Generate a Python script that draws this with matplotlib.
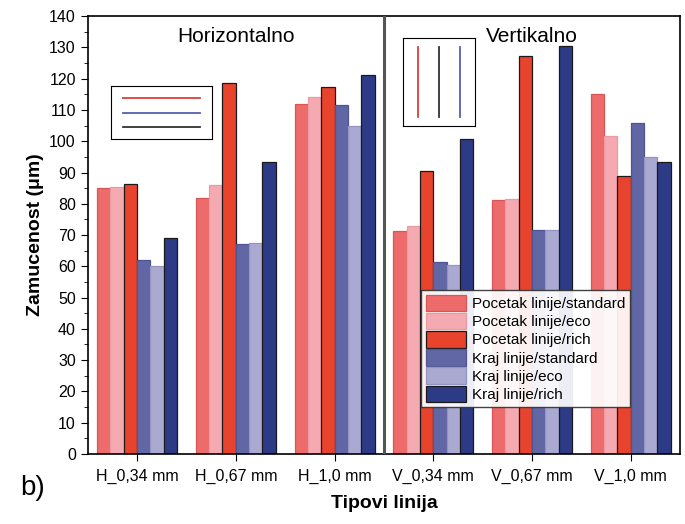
import matplotlib

matplotlib.use("Agg")
import matplotlib.pyplot as plt
import numpy as np
from matplotlib.ticker import MultipleLocator

plt.rcParams["font.family"] = ["Liberation Sans", "DejaVu Sans"]

groups = ["H_0,34 mm", "H_0,67 mm", "H_1,0 mm", "V_0,34 mm", "V_0,67 mm", "V_1,0 mm"]
series_names = ["Pocetak linije/standard", "Pocetak linije/eco", "Pocetak linije/rich",
                "Kraj linije/standard", "Kraj linije/eco", "Kraj linije/rich"]
pocetak_standard = [85.0, 82.0, 112.0, 71.3, 81.3, 115.0]
pocetak_eco = [85.3, 86.0, 114.3, 73.0, 81.5, 101.8]
pocetak_rich = [86.2, 118.8, 117.5, 90.5, 127.3, 89.0]
kraj_standard = [62.0, 67.0, 111.5, 61.5, 71.5, 106.0]
kraj_eco = [60.0, 67.3, 105.0, 60.3, 71.7, 95.0]
kraj_rich = [69.0, 93.5, 121.3, 100.8, 130.5, 93.3]

series = [pocetak_standard, pocetak_eco, pocetak_rich, kraj_standard, kraj_eco, kraj_rich]
colors = ["#ee6b6b", "#f5a9b0", "#e8432d", "#6166a5", "#a9a9d2", "#2d3b86"]
edges = ["#d85656", "#e99aa3", "#1a1a1a", "#4f5592", "#9494c2", "#1a1a1a"]

fig = plt.figure(figsize=(6.85, 5.24), dpi=100)
ax = fig.add_axes([0.128, 0.134, 0.865, 0.835])

x = np.arange(len(groups))
w = 0.135
for i, (vals, c, ec) in enumerate(zip(series, colors, edges)):
    ax.bar(x + (i - 2.5) * w, vals, w, color=c, edgecolor=ec, lw=0.9,
           label=series_names[i], zorder=2)

ax.set_xlim(-0.5, 5.5)
ax.set_ylim(0, 140)
ax.set_xticks(x)
ax.set_xticklabels(groups, fontsize=11.5)
ax.yaxis.set_major_locator(MultipleLocator(10))
ax.yaxis.set_minor_locator(MultipleLocator(5))
ax.tick_params(axis="y", labelsize=11.5, direction="out", length=5)
ax.tick_params(axis="y", which="minor", direction="out", length=3)
ax.tick_params(axis="x", direction="out", length=5, pad=6)
for s in ax.spines.values():
    s.set_linewidth(1.2)

# separator between the two panels
ax.axvline(2.5, color="#555555", lw=2.2, zorder=3)

ax.text(1.0, 136.5, "Horizontalno", fontsize=15, ha="center", va="top")
ax.text(4.0, 136.5, "Vertikalno", fontsize=15, ha="center", va="top")

# small line-key boxes
box_h = ax.inset_axes([0.04, 0.72, 0.17, 0.12])
for yy, c in zip([0.78, 0.5, 0.22], ["#d9413a", "#5460b0", "#333333"]):
    box_h.plot([0.12, 0.88], [yy, yy], color=c, lw=1.3)
box_h.set_xlim(0, 1)
box_h.set_ylim(0, 1)
box_h.set_xticks([])
box_h.set_yticks([])

box_v = ax.inset_axes([0.533, 0.75, 0.12, 0.2])
for xx, c in zip([0.2, 0.5, 0.8], ["#d9413a", "#333333", "#5460b0"]):
    box_v.plot([xx, xx], [0.1, 0.9], color=c, lw=1.3)
box_v.set_xlim(0, 1)
box_v.set_ylim(0, 1)
box_v.set_xticks([])
box_v.set_yticks([])

leg = ax.legend(loc="lower left", bbox_to_anchor=(0.55, 0.09), fontsize=11,
                frameon=True, fancybox=False, edgecolor="#333333", framealpha=0.92,
                handlelength=2.6, handleheight=1.3, labelspacing=0.1,
                handletextpad=0.4, borderpad=0.3)
leg.get_frame().set_linewidth(1.0)
leg.set_zorder(5)

ax.set_ylabel("Zamucenost (μm)", fontsize=14, fontweight="bold", labelpad=4)
ax.set_xlabel("Tipovi linija", fontsize=14, fontweight="bold", labelpad=8)

fig.text(0.03, 0.055, "b)", fontsize=20)

fig.savefig("out.png", dpi=100)
